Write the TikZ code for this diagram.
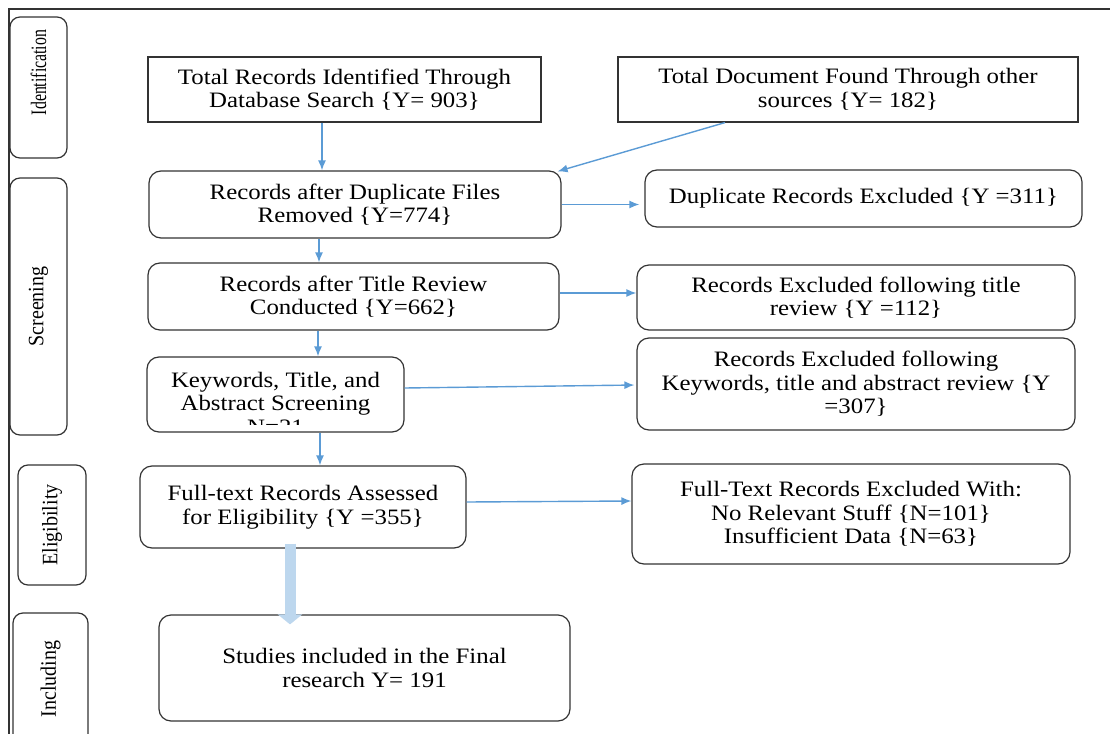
\documentclass[tikz,border=0pt]{standalone}
\usepackage{fontspec}
\setmainfont{Liberation Serif}[FakeStretch=1.13]
\newfontfamily\phasefont{Liberation Serif}[FakeStretch=0.91]
\newfontfamily\narrowfont{Liberation Serif}[FakeStretch=0.72]
\usetikzlibrary{arrows.meta}
\definecolor{flowblue}{RGB}{91,155,213}
\definecolor{paleblue}{RGB}{189,215,238}
\tikzset{x=1pt, y=-1pt,
  every node/.style={inner sep=0pt, align=center, font=\fontsize{22}{23.5}\selectfont},
  box/.style={draw=black!80, line width=1.2pt, rounded corners=12pt},
  sqbox/.style={draw=black!80, line width=1.2pt},
  phase/.style={draw=black!80, line width=1.2pt, rounded corners=10pt, rotate=90, font=\phasefont\fontsize{22}{23}\selectfont},
  flow/.style={flowblue, line width=1.4pt, -{Latex[length=10pt,width=8pt]}},
  bigflow/.style={paleblue, line width=11pt, -{Triangle[length=10pt,width=24pt]}}}

\begin{document}
\begin{tikzpicture}
   \useasboundingbox (0,0) rectangle (1110,733);
   \draw[black!80, line width=1.3pt] (9,740) -- (9,9) -- (1110,9);
   % phase labels
   \node[phase, minimum width=141, minimum height=57] (idlab) at (38.5,87.5) {};
   \node[rotate=90, font=\narrowfont\fontsize{22}{23}\selectfont] (idtext) at (38.5,72.5) {Identification};
   \node[phase, minimum width=257, minimum height=57] (scrlab) at (38.5,306.5) {Screening};
   \node[phase, minimum width=120, minimum height=68] (elilab) at (52,525) {Eligibility};
   \node[phase, minimum width=132, minimum height=75] (inclab) at (50.5,679) {Including};
   % boxes
   \node[sqbox, minimum width=393, minimum height=65] (dbsearch) at (344.5,89.5) {Total Records Identified Through\\Database Search \{Y= 903\}};
   \node[sqbox, minimum width=460, minimum height=65] (othersrc) at (848,89.5) {Total Document Found Through other\\sources \{Y= 182\}};
   \node[box, minimum width=412, minimum height=67] (dupremoved) at (355,204.5) {Records after Duplicate Files\\Removed \{Y=774\}};
   \node[box, minimum width=437, minimum height=57] (dupexcl) at (863.5,198.5) {Duplicate Records Excluded \{Y =311\}};
   \node[box, minimum width=411, minimum height=67] (titlerev) at (353.5,296.5) {Records after Title Review\\Conducted \{Y=662\}};
   \node[box, minimum width=438, minimum height=65] (titleexcl) at (856,297.5) {Records Excluded following title\\review \{Y =112\}};
   \node[box, minimum width=257, minimum height=75] (kwscreen) at (275.5,394.5) {};
   \begin{scope}
    \clip (kwscreen.north west) rectangle ([yshift=8pt]kwscreen.south east);
    \node (kwtext) at ([yshift=-8.5pt]kwscreen.center) {Keywords, Title, and\\Abstract Screening\\N=21};
   \end{scope}
   \node[box, minimum width=438, minimum height=92] (kwexcl) at (856,384) {Records Excluded following\\Keywords, title and abstract review \{Y\\=307\}};
   \node[box, minimum width=326, minimum height=82] (fulltext) at (303,507) {Full-text Records Assessed\\for Eligibility \{Y =355\}};
   \node[box, minimum width=438, minimum height=100] (ftexcl) at (851,514) {Full-Text Records Excluded With:\\No Relevant Stuff \{N=101\}\\Insufficient Data \{N=63\}};
   \node[box, minimum width=411, minimum height=106] (final) at (364.5,668) {Studies included in the Final\\research Y= 191};
   % arrows
   \draw[flow] ([xshift=-22.5pt]dbsearch.south) -- ([xshift=-33pt]dupremoved.north);
   \draw[flow] ([xshift=-123pt]othersrc.south) -- ([shift={(-4pt,-1pt)}]dupremoved.north east);
   \draw[flow, shorten >=5pt] (dupremoved.east) -- (dupremoved.east -| dupexcl.west);
   \draw[flow] ([xshift=-36pt]dupremoved.south) -- ([xshift=-34.5pt]titlerev.north);
   \draw[flow] ([yshift=3.5pt]titlerev.east) -- ([yshift=4.5pt]titleexcl.west);
   \draw[flow] ([xshift=-35.5pt]titlerev.south) -- ([xshift=42.5pt]kwscreen.north);
   \draw[flow, shorten >=2pt] ([yshift=6.5pt]kwscreen.east) -- ([yshift=-1pt]kwexcl.west);
   \draw[flow] ([xshift=44.5pt]kwscreen.south) -- ([xshift=17pt]fulltext.north);
   \draw[flow] ([yshift=5pt]fulltext.east) -- ([yshift=13pt]ftexcl.west);
   \draw[bigflow] ([xshift=-13pt,yshift=5pt]fulltext.south) -- ([xshift=-74.5pt,yshift=-10pt]final.north);
\end{tikzpicture}
\end{document}
